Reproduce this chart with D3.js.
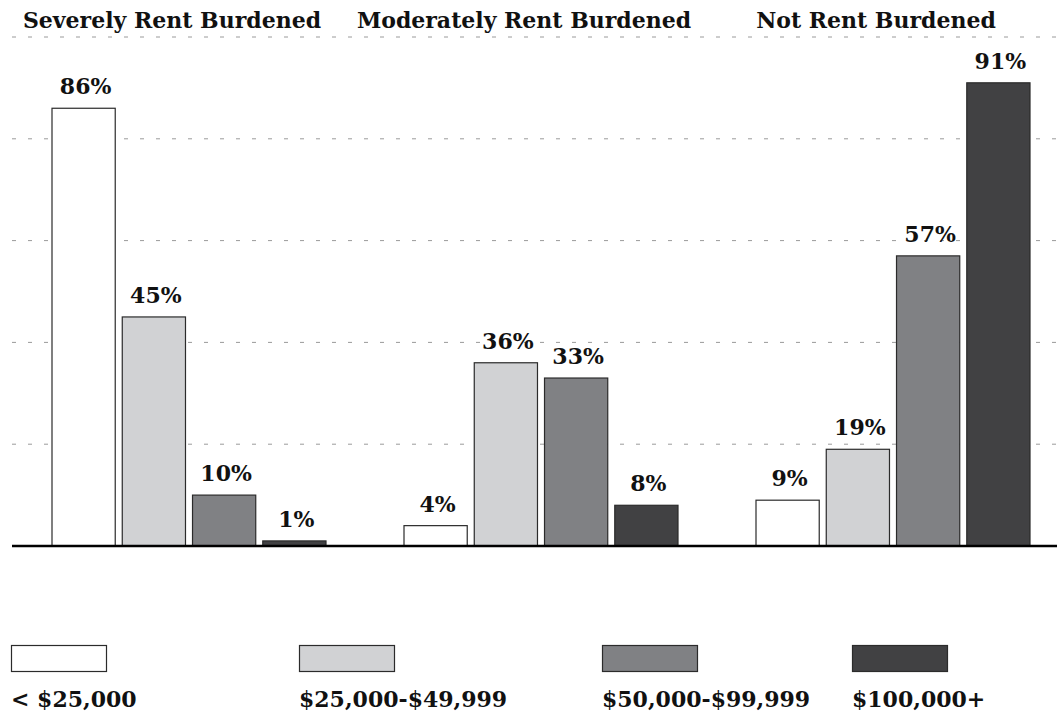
<!DOCTYPE html>
<html>
<head>
<meta charset="utf-8">
<script src="https://cdn.jsdelivr.net/npm/d3@7"></script>
<style>
  body { margin: 0; background: #fff; }
  svg { display: block; }
  text { font-family: "DejaVu Serif", serif; font-weight: bold; fill: #111; }
</style>
</head>
<body>
<div id="chart"><svg></svg></div>
<script>
// data
const groups = ["Severely Rent Burdened", "Moderately Rent Burdened", "Not Rent Burdened"];
const incomes = ["< $25,000", "$25,000-$49,999", "$50,000-$99,999", "$100,000+"];
const under25 = [86, 4, 9];
const from25to50 = [45, 36, 19];
const from50to100 = [10, 33, 57];
const over100 = [1, 8, 91];
const yTicks = [0, 20, 40, 60, 80, 100];

const series = [under25, from25to50, from50to100, over100];
const colors = ["#ffffff", "#d1d2d4", "#808184", "#414143"];

const width = 1057;
const height = 717;

const svg = d3.select("#chart").select("svg")
  .attr("width", width)
  .attr("height", height);

const x0 = d3.scaleBand()
  .domain(groups)
  .range([13, 1069])
  .padding(0);

const x1 = d3.scaleBand()
  .domain(d3.range(incomes.length))
  .range([39, 313])
  .paddingInner(0.1);

const y = d3.scaleLinear()
  .domain([0, 100])
  .range([546, 37]);

// dashed gridlines
svg.append("g")
  .selectAll("line")
  .data(yTicks)
  .join("line")
  .attr("x1", 12)
  .attr("x2", width)
  .attr("y1", (d) => y(d))
  .attr("y2", (d) => y(d))
  .style("stroke", "#9a9a9a")
  .style("stroke-width", 1)
  .style("stroke-dasharray", "4, 12");

// group titles
svg.append("g")
  .selectAll("text")
  .data(groups)
  .join("text")
  .attr("x", (d) => x0(d) + x0.bandwidth() / 2 - 17)
  .attr("y", 28)
  .attr("text-anchor", "middle")
  .style("font-size", "22px")
  .text((d) => d);

// bars
const g = svg.append("g");

groups.forEach((grp, gi) => {
  const gg = g.append("g")
    .attr("transform", "translate(" + x0(grp) + ",0)");

  const rows = series.map((s, si) => ({ si: si, v: s[gi] }));

  gg.selectAll("rect")
    .data(rows)
    .join("rect")
    .attr("x", (d) => x1(d.si))
    .attr("width", x1.bandwidth())
    .attr("y", (d) => y(d.v))
    .attr("height", (d) => y(0) - y(d.v))
    .attr("fill", (d) => colors[d.si])
    .attr("stroke", "#2b2b2b")
    .attr("stroke-width", 1.2);

  gg.selectAll("text")
    .data(rows)
    .join("text")
    .attr("x", (d) => x1(d.si) + x1.bandwidth() / 2 + 2)
    .attr("y", (d) => y(d.v) - 14)
    .attr("text-anchor", "middle")
    .style("font-size", "22px")
    .text((d) => d.v + "%");
});

// baseline
svg.append("line")
  .attr("x1", 12)
  .attr("x2", width)
  .attr("y1", y(0))
  .attr("y2", y(0))
  .style("stroke", "#000")
  .style("stroke-width", 2.5);

// legend
const legendX = [11, 299, 602, 852];

const legend = svg.append("g")
  .selectAll("g")
  .data(incomes)
  .join("g")
  .attr("transform", (d, i) => "translate(" + legendX[i] + ",0)");

legend.append("rect")
  .attr("x", 0.5)
  .attr("y", 645.5)
  .attr("width", 95)
  .attr("height", 26)
  .attr("fill", (d, i) => colors[i])
  .attr("stroke", "#2b2b2b")
  .attr("stroke-width", 1.2);

legend.append("text")
  .attr("x", 0)
  .attr("y", 707)
  .style("font-size", "22px")
  .text((d) => d);
</script>
</body>
</html>
